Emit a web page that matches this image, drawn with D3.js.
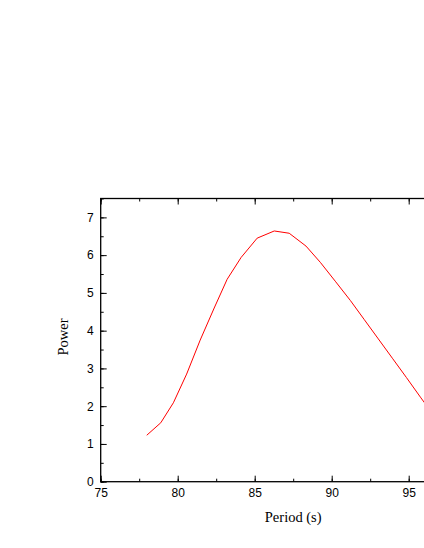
<!DOCTYPE html>
<html>
<head>
<meta charset="utf-8">
<script src="https://cdn.jsdelivr.net/npm/d3@7"></script>
<style>
html,body{margin:0;padding:0;background:#fff;overflow:hidden;}
svg{display:block;}
</style>
</head>
<body>
<script>
const periods = [77.99, 78.90, 79.72, 80.58, 81.46, 82.37, 83.21, 84.12, 85.16, 86.27, 87.24, 88.33, 89.26, 90.23, 91.21, 92.12, 93.03, 93.94, 94.85, 95.76, 96.67];
const powers  = [1.23, 1.56, 2.09, 2.85, 3.75, 4.60, 5.36, 5.94, 6.45, 6.64, 6.58, 6.24, 5.81, 5.31, 4.80, 4.29, 3.78, 3.27, 2.76, 2.24, 1.73];
const xTicks = [75, 80, 85, 90, 95];
const xTickMarks = [75, 80, 85, 90, 95, 100];
const yTicks = [0, 1, 2, 3, 4, 5, 6, 7];
const xLabel = "Period (s)";
const yLabel = "Power";

(function () {
const W = 424, H = 548;
const mLeft = 100.7, mRight = 485.7, mTop = 198.5, mBottom = 481.7;

const svg = d3.select("body").append("svg").attr("width", W).attr("height", H);

const x = d3.scaleLinear().domain([75, 100]).range([mLeft, mRight]);
const y = d3.scaleLinear().domain([0, 7.5]).range([mBottom, mTop]);

const tickFont = "'Liberation Sans', Arial, sans-serif";
const titleFont = "'Liberation Serif', 'Times New Roman', serif";

function styleAxis(g) {
  g.select(".domain").remove();
  g.selectAll("line").attr("stroke", "#000").attr("stroke-width", 1);
  g.selectAll("text").attr("font-family", tickFont).attr("font-size", 12).attr("fill", "#000");
}

const xMinor = d3.range(75, 100.01, 2.5);
const yMinor = d3.range(0, 7.51, 0.5);

svg.append("g").attr("transform", `translate(0,${mBottom})`)
  .call(d3.axisBottom(x).tickValues(xMinor).tickSize(-3).tickFormat(""))
  .call(styleAxis);
svg.append("g").attr("transform", `translate(0,${mBottom})`)
  .call(d3.axisBottom(x).tickValues(xTickMarks).tickSize(-6).tickFormat(""))
  .call(styleAxis);
svg.append("g").attr("transform", `translate(0,${mBottom})`)
  .call(d3.axisBottom(x).tickValues(xTicks).tickSize(0).tickPadding(7).tickFormat(d3.format("d")))
  .call(styleAxis);
svg.append("g").attr("transform", `translate(0,${mTop})`)
  .call(d3.axisTop(x).tickValues(xMinor).tickSize(-3).tickFormat(""))
  .call(styleAxis);
svg.append("g").attr("transform", `translate(0,${mTop})`)
  .call(d3.axisTop(x).tickValues(xTickMarks).tickSize(-6).tickFormat(""))
  .call(styleAxis);
svg.append("g").attr("transform", `translate(${mLeft},0)`)
  .call(d3.axisLeft(y).tickValues(yMinor).tickSize(-3).tickFormat(""))
  .call(styleAxis);
svg.append("g").attr("transform", `translate(${mLeft},0)`)
  .call(d3.axisLeft(y).tickValues(yTicks).tickSize(-6).tickPadding(7).tickFormat(d3.format("d")))
  .call(styleAxis);
svg.append("g").attr("transform", `translate(${mRight},0)`)
  .call(d3.axisRight(y).tickValues(yTicks).tickSize(-6).tickFormat(""))
  .call(styleAxis);

svg.append("rect").attr("x", mLeft).attr("y", mTop)
  .attr("width", mRight - mLeft).attr("height", mBottom - mTop)
  .attr("fill", "none").attr("stroke", "#000").attr("stroke-width", 1.3);

const data = periods.map((p, i) => [p, powers[i]]);
svg.append("path").datum(data)
  .attr("fill", "none").attr("stroke", "#ff0000").attr("stroke-width", 1)
  .attr("d", d3.line().x(d => x(d[0])).y(d => y(d[1])));

svg.append("text").attr("x", (mLeft + mRight) / 2).attr("y", 521.5)
  .attr("text-anchor", "middle").attr("font-family", titleFont).attr("font-size", 14.5)
  .text(xLabel);
svg.append("text").attr("transform", `translate(68,337) rotate(-90)`)
  .attr("text-anchor", "middle").attr("font-family", titleFont).attr("font-size", 14.5)
  .text(yLabel);
})();
</script>
</body>
</html>
